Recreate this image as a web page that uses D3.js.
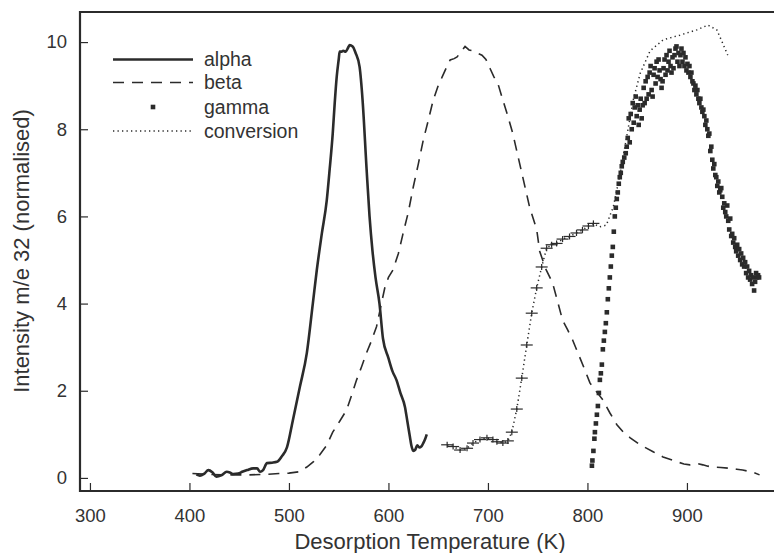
<!DOCTYPE html>
<html><head><meta charset="utf-8">
<script src="https://cdn.jsdelivr.net/npm/d3@7/dist/d3.min.js"></script>
<style>
html,body{margin:0;padding:0;background:#fff;}
svg{display:block;font-family:"Liberation Sans",Arial,Helvetica,sans-serif;}
</style></head>
<body>
<svg id="chart" width="774" height="553"></svg>
<script>
// ---------- data ----------
const xTicks = [300, 400, 500, 600, 700, 800, 900];
const yTicks = [0, 2, 4, 6, 8, 10];
const seriesNames = ["alpha", "beta", "gamma", "conversion"];

const alphaT = [407,410.5,415,419,423,427,432,437.5,441,444,449,453,458,464,468,471,474,478,483,488,493,498,504,511,518,524,528,533,538,541,544,546,548,550,551,553,554.5,557,559,561,564,567,571,574,578,581,584,587,591,594.5,600,604,608,612,616.6,619,621.6,623,625,627,629,631,633,635,637,638.5];
const alphaI = [0.08,0.05,0.1,0.18,0.13,0.03,0.06,0.14,0.12,0.09,0.1,0.14,0.18,0.22,0.22,0.14,0.18,0.34,0.35,0.37,0.5,0.7,1.33,2.09,2.87,4.0,4.77,5.6,6.37,7.1,7.9,8.6,9.2,9.6,9.78,9.78,9.8,9.78,9.85,9.93,9.9,9.75,9.43,8.67,7.1,6.0,5.2,4.6,4.0,3.2,2.75,2.45,2.25,1.95,1.63,1.3,0.94,0.75,0.62,0.65,0.75,0.7,0.72,0.8,0.9,1.0];

const betaT = [403,420,440,460,475,490,500,510,518,525,531,538,544,551,558,563,568,573,578,583,588,592,596.5,600,604.5,610,614.6,620,625,630,635,640,645,650,654,658,662,666,669,673,677,681,685,690,694,698,702,706,710,715,720,725,729,735,742,749,752,758,765,770,775,780,785,792,797,802.5,809,815.5,822.6,829.6,836,843,853,866,876,890,897,903,910,916,921,926,934,943,950,956,965,973];
const betaI = [0.1,0.08,0.07,0.07,0.08,0.1,0.11,0.14,0.25,0.38,0.53,0.75,1.05,1.3,1.56,1.9,2.25,2.55,2.87,3.15,3.47,3.9,4.38,4.6,4.77,5.15,5.6,6.1,6.68,7.2,7.75,8.2,8.67,9.0,9.2,9.4,9.59,9.62,9.66,9.78,9.9,9.82,9.8,9.74,9.7,9.6,9.4,9.2,9.05,8.67,8.3,7.9,7.5,6.9,6.2,5.7,5.2,4.8,4.47,4.05,3.62,3.4,3.17,2.78,2.5,2.18,1.98,1.79,1.49,1.22,1.05,0.92,0.76,0.6,0.48,0.37,0.32,0.3,0.33,0.3,0.27,0.25,0.24,0.22,0.2,0.18,0.14,0.07];

const gammaT = [804.5,805,806,807,807.5,808.5,809.5,810.5,811.5,812.5,813.5,814.5,815.5,816.5,817.5,818.5,819.5,820.5,821.5,822.5,823.5,824.5,825.5,826.5,827.5,828.5,829.5,830.5,831.5,832.5,833.5,834.5,835.5,837,838.5,839.5,840.5,841.5,842.5,843.5,844.5,845.5,846.5,847.5,848.5,849.5,850.5,851.5,852.5,853.5,854.5,855.5,856.5,857.5,858.5,859.5,860.5,861.5,862.5,863.5,864.5,865.5,866.5,867.5,868.5,869.5,870.5,871.5,872.5,873.5,874.5,875.5,876.5,877.5,878.5,879.5,880.5,881.5,882.5,883.5,884.5,885.5,886.5,887.5,888.5,889.5,890.5,891.5,892.5,893.5,894.5,895.5,896.5,897.5,898.5,899.5,900.5,901.5,902.5,903.5,904.5,905.5,906.5,907.5,908.5,909.5,910.5,911.5,912.5,913.5,914.5,915.5,916.5,917.5,918.5,919.5,920.5,921.5,922.5,923.5,924.5,925.5,926.5,927.5,928.5,929.5,930.5,931.5,932.5,933.5,934.5,935.5,936.5,937.5,938.5,939.5,940.5,941.5,942.5,943.5,944.5,945.5,946.5,947.5,948.5,949.5,950.5,951.5,952.5,953.5,954.5,955.5,956.5,957.5,958.5,959.5,960.5,961.5,962.5,963.5,964.5,965.5,966.5,967.5,968.5,969.5,970.5,971.5,972.5];
const gammaI = [0.28,0.4,0.62,0.9,1.05,1.25,1.45,1.65,1.95,2.25,2.4,2.6,2.95,3.15,3.35,3.55,3.8,4.1,4.35,4.6,4.85,5.1,5.3,5.65,6.0,6.2,6.4,6.55,6.75,6.9,7.0,7.15,7.25,7.35,7.45,7.6,7.8,8.25,7.7,8.35,8.0,8.6,8.15,8.5,8.75,8.3,8.55,8.1,8.45,8.7,8.25,8.55,8.95,8.6,9.1,8.7,9.2,8.8,9.3,9.45,8.9,8.75,9.25,9.4,9.05,9.55,9.2,9.6,9.35,9.15,8.95,9.1,9.4,9.6,9.25,9.7,9.35,9.55,9.8,9.45,9.3,9.65,9.4,9.7,9.85,9.9,9.55,9.75,9.45,9.7,9.85,9.55,9.75,9.45,9.65,9.35,9.5,9.3,9.45,9.2,9.3,9.1,9.05,8.9,9.0,8.8,8.9,8.7,8.6,8.7,8.5,8.4,8.45,8.3,8.1,8.2,8.0,7.85,7.9,7.5,7.6,7.3,7.1,7.2,6.95,6.9,6.7,6.8,6.55,6.6,6.65,6.45,6.2,6.3,6.1,6.0,6.25,5.9,5.7,5.95,5.55,5.6,5.4,5.5,5.3,5.2,5.35,5.1,5.25,5.0,5.15,4.9,5.05,4.85,4.95,4.7,4.85,4.6,4.75,4.55,4.65,4.45,4.6,4.3,4.5,4.7,4.6,4.65,4.6];

const convT = [659,665,672,679,685,692,699,705,709,715,720,724,729,734,739,744,749,754,759,764,769,775,782,789,795,801,806,812,819,826,833,840,846,853,863,876,893,910,921,930,936,941];
const convI = [0.76,0.72,0.64,0.68,0.8,0.88,0.92,0.88,0.83,0.8,0.85,1.05,1.58,2.29,3.05,3.78,4.36,4.84,5.27,5.35,5.38,5.48,5.54,5.62,5.69,5.78,5.84,5.76,5.8,6.22,6.99,7.9,8.67,9.28,9.8,10.05,10.16,10.28,10.39,10.28,9.97,9.7];
const convMarkMaxT = 806;

// ---------- setup ----------
const ink = "#2b2b2b";
const svg = d3.select("#chart");
const x = d3.scaleLinear().domain([290, 987.5]).range([80, 774]);
const y = d3.scaleLinear().domain([-0.3, 10.69]).range([491, 12]);

const zip = (a, b) => a.map((t, i) => [t, b[i]]);
const alpha = zip(alphaT, alphaI);
const beta = zip(betaT, betaI);
const gamma = zip(gammaT, gammaI);
const conv = zip(convT, convI);

const line = d3.line().x(d => x(d[0])).y(d => y(d[1]));

// axes
const xAxis = d3.axisBottom(x).tickValues(xTicks).tickSizeInner(-8).tickSizeOuter(0).tickPadding(18);
const yAxis = d3.axisLeft(y).tickValues(yTicks).tickSizeInner(-8).tickSizeOuter(0).tickPadding(13);

const gx = svg.append("g").attr("transform", "translate(0,491)").call(xAxis);
const gy = svg.append("g").attr("transform", "translate(80,0)").call(yAxis);
[gx, gy].forEach(g => {
  g.select(".domain").remove();
  g.selectAll(".tick line").attr("stroke", ink).attr("stroke-width", 1.2);
  g.selectAll(".tick text").attr("fill", "#333").style("font-size", "18.5px")
    .style("font-family", '"Liberation Sans",Arial,sans-serif');
});

// frame (left, top, bottom)
svg.append("path")
  .attr("d", `M774,12 H80 V491 H774`)
  .attr("fill", "none").attr("stroke", ink).attr("stroke-width", 2.2);

// axis titles
svg.append("text").attr("x", 430).attr("y", 549).attr("text-anchor", "middle")
  .attr("fill", "#333").style("font-size", "22px").text("Desorption Temperature (K)");
svg.append("text").attr("transform", "translate(29,251) rotate(-90)").attr("text-anchor", "middle")
  .attr("fill", "#333").style("font-size", "22px").text("Intensity m/e 32 (normalised)");

// series
svg.append("path").datum(alpha).attr("d", line.curve(d3.curveMonotoneX))
  .attr("fill", "none").attr("stroke", ink).attr("stroke-width", 2.6).attr("stroke-linejoin", "round");

svg.append("path").datum(beta).attr("d", line.curve(d3.curveLinear))
  .attr("fill", "none").attr("stroke", ink).attr("stroke-width", 1.6).attr("stroke-dasharray", "11,8");

svg.append("path").datum(conv).attr("d", line.curve(d3.curveLinear))
  .attr("fill", "none").attr("stroke", ink).attr("stroke-width", 1.5)
  .attr("stroke-dasharray", "1.3,3.2");

const marks = svg.append("g").attr("stroke", ink).attr("stroke-width", 1.2);
conv.filter(d => d[0] <= convMarkMaxT).forEach(d => {
  marks.append("line").attr("x1", x(d[0]) - 6).attr("x2", x(d[0]) + 6)
    .attr("y1", y(d[1])).attr("y2", y(d[1]));
  marks.append("line").attr("x1", x(d[0])).attr("x2", x(d[0]))
    .attr("y1", y(d[1]) - 3).attr("y2", y(d[1]) + 3);
});

const sq = 4.6;
svg.append("g").selectAll("rect").data(gamma).join("rect")
  .attr("x", d => x(d[0]) - sq / 2).attr("y", d => y(d[1]) - sq / 2)
  .attr("width", sq).attr("height", sq).attr("fill", ink);

// legend
const lg = svg.append("g");
const rowY = [59.5, 82.5, 107, 131];
lg.append("line").attr("x1", 113).attr("x2", 193).attr("y1", rowY[0]).attr("y2", rowY[0])
  .attr("stroke", ink).attr("stroke-width", 2.6);
lg.append("line").attr("x1", 113).attr("x2", 193).attr("y1", rowY[1]).attr("y2", rowY[1])
  .attr("stroke", ink).attr("stroke-width", 1.6).attr("stroke-dasharray", "11,8");
lg.append("rect").attr("x", 153 - sq / 2).attr("y", rowY[2] - sq / 2).attr("width", sq).attr("height", sq).attr("fill", ink);
lg.append("line").attr("x1", 113).attr("x2", 193).attr("y1", rowY[3]).attr("y2", rowY[3])
  .attr("stroke", ink).attr("stroke-width", 1.5).attr("stroke-dasharray", "1.3,3.2");
seriesNames.forEach((n, i) => {
  lg.append("text").attr("x", 204).attr("y", rowY[i] + 6.5).attr("fill", "#333")
    .style("font-size", "19.5px").text(n);
});
</script>
</body></html>
